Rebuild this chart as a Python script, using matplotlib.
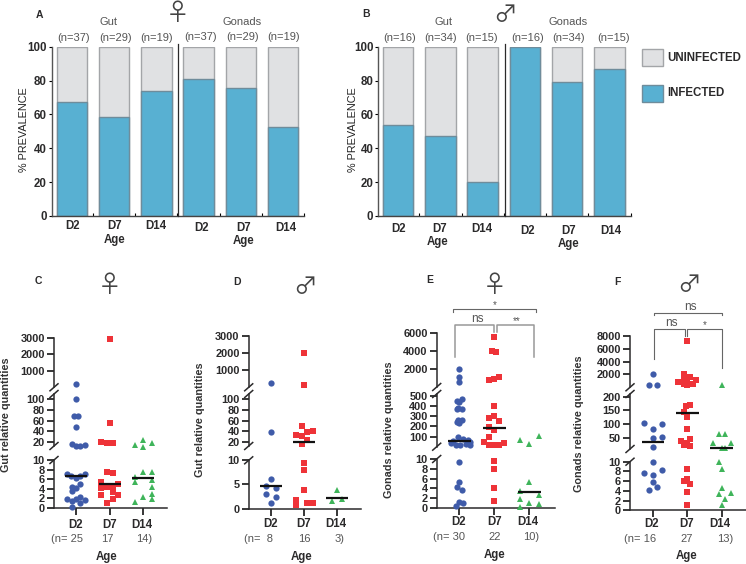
import matplotlib
matplotlib.use('Agg')
import matplotlib.pyplot as plt
from matplotlib.patches import Rectangle

plt.rcParams['font.family'] = ['Liberation Sans', 'DejaVu Sans']

W, H = 746, 564
INK = '#2b2a2b'
BLUE, RED, GREEN = '#3f5ba9', '#ee3338', '#3fb45a'
INF, UNINF = '#58b0d2', '#e0e1e3'

# prevalence bars
bar_days = ['D2', 'D7', 'D14', 'D2', 'D7', 'D14']
a_infected = [67.6, 58.6, 73.7, 81.0, 75.9, 52.6]
b_infected = [53.8, 47.0, 20.0, 100.0, 79.4, 86.7]
a_n = ['(n=37)', '(n=29)', '(n=19)', '(n=37)', '(n=29)', '(n=19)']
b_n = ['(n=16)', '(n=34)', '(n=15)', '(n=16)', '(n=34)', '(n=15)']

# panel C, gut female
c_d2 = [7.0, 6.6, 6.2, 6.6, 7.0, 4.1, 4.4, 3.5, 5.1, 1.9, 1.4, 1.9, 2.3, 1.6, 1.0, 0.3,
        100, 69, 69, 49, 17, 12, 12, 14, 192]
c_d2_off = [-.26, -.16, 0, .12, .26, 0, -.13, -.13, .12, -.26, -.13, 0, .12, .26, .12, -.13,
            0, -.07, .07, 0, -.13, 0, .13, .26, 0]
c_d7 = [7.6, 7.3, 5.4, 5.1, 4.4, 4.6, 4.1, 3.4, 2.7, 2.8, 1.9, 1.0, 20.6, 19, 17.5, 55, 2900]
c_d7_off = [-.08, .09, -.25, .25, -.08, .09, -.25, .09, -.25, .25, .09, -.08, -.25, -.08, .09, 0, 0]
c_d14 = [6.4, 7.5, 7.6, 5.4, 5.8, 4.4, 2.9, 2.3, 1.9, 1.3, 23, 15, 17.5, 11]
c_d14_off = [-.25, 0, .26, -.25, .26, .26, .26, 0, .26, -.25, 0, -.25, .26, 0]
c_med = [6.6, 5.1, 6.3]

# panel D, gut male
d_d2 = [6.2, 4.7, 4.3, 3.0, 2.5, 1.1, 38, 260]
d_d2_off = [0, -.15, .15, -.15, .15, 0, 0, 0]
d_d7 = [9.5, 8.0, 3.9, 1.7, 0.8, 1.1, 1.2, 49, 33, 31, 38, 40, 24, 16, 140, 2020]
d_d7_off = [0, 0, 0, -.25, -.25, .09, .26, -.08, -.25, -.08, .09, .26, .09, -.08, 0, 0]
d_d14 = [3.9, 1.6, 2.1]
d_d14_off = [0, -.15, .15]
d_med = [4.6, 20, 2.2]

# panel E, gonads female
e_d2 = [9.4, 5.4, 4.2, 3.7, 1.3, 1.0, 0.4,
        470, 455, 440, 380, 370, 370, 260, 260, 245, 235,
        95, 80, 70, 60, 45, 35, 25, 20, 15, 12, 600, 1150, 1960]
e_d2_off = [0, 0, -.06, .07, 0, .12, -.1,
            .07, -.06, 0, -.03, .07, -.06, -.03, .07, -.06, 0,
            -.03, .1, .25, -.18, .32, -.25, .18, -.1, .02, .3, 0, 0, 0]
e_d7 = [9.5, 7.9, 4.0, 1.4, 405, 307, 280, 250, 190, 165, 100, 50, 20, 20, 20, 35,
        770, 850, 1060, 3830, 4000, 5560]
e_d7_off = [0, 0, 0, 0, 0, 0, -.14, .14, -.14, 0, -.14, -.28, -.14, 0, .14, .27,
            -.14, 0, .14, .06, -.08, 0]
e_d14 = [5.4, 3.4, 2.7, 1.8, 1.1, 0.9, 0.3, 65, 27, 103]
e_d14_off = [0, -.27, .27, -.27, 0, .27, -.27, -.27, 0, .27]
e_med = [60, 185, 3.3]

# panel F, gonads male
f_d2 = [10, 8.2, 7.6, 7.2, 5.8, 4.7, 4.1, 103, 100, 83, 47, 52, 15, 333, 333, 2050]
f_d2_off = [0, .26, -.26, 0, 0, .13, -.13, -.26, .26, 0, 0, .26, 0, -.13, .13, 0]
f_d7 = [8.5, 6.0, 6.4, 5.5, 3.8, 1.1, 170, 165, 143, 125, 80, 37, 46, 30, 24, 19,
        2000, 1600, 1300, 1170, 800, 750, 750, 550, 400, 500, 7150]
f_d7_off = [0, -.09, 0, .09, 0, 0, .07, -.04, -.09, 0, 0, -.17, .09, 0, -.09, .09,
            -.09, .08, -.09, .26, -.27, -.17, 0, .16, 0, -.09, 0]
f_d14 = [8.5, 4.6, 3.4, 3.5, 2.4, 1.1, 62, 62, 30, 30, 10, 12, 12, 280]
f_d14_off = [0, 0, -.09, .27, .09, 0, -.09, .09, -.25, .27, -.09, .09, 0, 0]
f_med = [32, 142, 12]

fig = plt.figure(figsize=(W / 100, H / 100), dpi=100)


def px_axes(x0, x1, ybot, ytop):
    return fig.add_axes([x0 / W, 1 - ybot / H, (x1 - x0) / W, (ybot - ytop) / H])


over = fig.add_axes([0, 0, 1, 1], zorder=10)
over.set_xlim(0, W)
over.set_ylim(H, 0)
over.axis('off')


def txt(x, y, s, size=8.3, weight='normal', color=INK, **kw):
    over.text(x, y, s, fontsize=size, fontweight=weight, color=color,
              ha=kw.pop('ha', 'center'), va=kw.pop('va', 'center'), **kw)


def bars(x0, x1, infected, first_c, pitch):
    ax = px_axes(x0, x1, 216, 46.7)
    xs = range(len(infected))
    ax.bar(xs, [100] * 6, width=.72, color=UNINF, edgecolor='#a3a5a8', linewidth=1)
    ax.bar(xs, infected, width=.72, color=INF, edgecolor='#6f8c9b', linewidth=1)
    ax.set_xlim((x0 - first_c) / pitch, (x1 - first_c) / pitch)
    ax.set_ylim(0, 100)
    ax.set_yticks([0, 20, 40, 60, 80, 100])
    ax.set_xticks([.5, 1.5, 2.5, 3.5, 4.5, 5.5])
    ax.set_xticklabels([])
    ax.tick_params(axis='y', length=2, width=.8, pad=1.5, labelsize=8.3, labelcolor=INK)
    ax.tick_params(axis='x', direction='in', length=2, width=.8)
    for lab in ax.get_yticklabels():
        lab.set_fontweight('bold')
    ax.spines[['top', 'right']].set_visible(False)
    ax.spines[['left', 'bottom']].set_linewidth(1)
    ax.spines['left'].set_color('#555555')
    ax.spines['bottom'].set_color('#444444')


bars(51.7, 304, a_infected, 72.2, 42.6)
bars(378.3, 630.7, b_infected, 398.3, 42.8)
over.plot([178, 178], [44, 216], color=INK, lw=.9)
over.plot([505.3, 505.3], [44, 216], color=INK, lw=.9)

for x, y, s in zip([72.7, 114.3, 156.3, 202, 243.7, 285.7], [226, 226, 226, 228, 228, 228], bar_days):
    txt(x, y, s, weight='bold')
for x, y, s in zip([398.3, 439.3, 481.7, 527.7, 568.7, 611], [229, 229, 229, 230.5, 230.5, 230.5], bar_days):
    txt(x, y, s, weight='bold')
for x, y, s in zip([74, 115.3, 156.7, 201, 242.3, 283.3], [38, 38, 38, 37, 37, 37], a_n):
    txt(x, y, s, size=8, color='#555555')
for x, s in zip([399.3, 440.7, 481.7, 527.3, 569, 613.3], b_n):
    txt(x, 38, s, size=8, color='#555555')
for x, y in [(114.3, 240), (243.7, 241), (437.7, 242), (569, 244)]:
    txt(x, y, 'Age', weight='bold')
for x in [109, 443.3]:
    txt(x, 22, 'Gut', size=8, color='#555555')
for x in [242, 567.7]:
    txt(x, 22, 'Gonads', size=8, color='#555555')
txt(24, 130, '% PREVALENCE', size=7.8, rotation=90, color='#222222')
txt(352.5, 130, '% PREVALENCE', size=7.8, rotation=90, color='#222222')
for x, y, s in [(39, 15, 'A'), (366, 14, 'B'), (38.3, 281, 'C'), (237, 282, 'D'), (430, 280, 'E'), (617, 282, 'F')]:
    txt(x, y, s, weight='bold', size=7.5)

# sex symbols
for x, y, s in [(178, 14, '\u2640'), (505, 15, '\u2642'), (110, 285, '\u2640'), (305, 287, '\u2642'),
                (495, 285, '\u2640'), (689, 286, '\u2642')]:
    over.text(x, y, s, fontsize=17, color='#444444', ha='center', va='center', family='Noto Sans CJK JP')

# legend
over.add_patch(Rectangle((641.7, 49.3), 21.3, 17, fc=UNINF, ec='#a3a5a8', lw=1))
over.add_patch(Rectangle((642, 85), 21, 17, fc=INF, ec='#6f8c9b', lw=1))
txt(667.7, 58, 'UNINFECTED', weight='bold', ha='left')
txt(667.7, 93, 'INFECTED', weight='bold', ha='left')


def scatter_panel(x0, x1, c0, pitch, segs, groups, med, days_x, day_y, n_x, n_y, n_labels, age_xy, ylab_xy, ylab):
    axes = []
    for lo, hi, pb, pt, ticks in segs:
        ax = px_axes(x0, x1, pb, pt)
        ax.patch.set_alpha(0)
        ax.set_xlim((x0 - c0) / pitch, (x1 - c0) / pitch)
        ax.set_ylim(lo, hi)
        ax.set_yticks(ticks)
        ax.tick_params(axis='y', length=5, width=1.1, pad=1.5, labelsize=7.9, labelcolor=INK)
        for lab in ax.get_yticklabels():
            lab.set_fontweight('bold')
        ax.spines[['top', 'right', 'bottom']].set_visible(False)
        ax.spines['left'].set_linewidth(1.1)
        ax.spines['left'].set_color(INK)
        ax.set_xticks([])
        axes.append(ax)
    low = axes[0]
    low.spines['bottom'].set_visible(True)
    low.spines['bottom'].set_linewidth(1.1)
    low.spines['bottom'].set_color(INK)
    low.set_xticks([0, 1, 2])
    low.set_xticklabels([])
    low.tick_params(axis='x', length=5, width=1.1)

    def pick(v):
        for ax, s in zip(axes, segs):
            if v <= s[1]:
                return ax
        return axes[-1]

    styles = [('o', BLUE, 4.5), ('s', RED, 4.1), ('^', GREEN, 4.6)]
    for i, (vals, offs) in enumerate(groups):
        m, c, ms = styles[i]
        for v, o in zip(vals, offs):
            pick(v).plot(i + o, v, m, color=c, ms=ms, mew=0, clip_on=False, zorder=3)
        pick(med[i]).plot([i - .33, i + .33], [med[i], med[i]], color='#111111', lw=1.6,
                          solid_capstyle='butt', clip_on=False, zorder=4)

    # axis break marks
    for a, b in zip(segs[:-1], segs[1:]):
        for y in (a[3], b[2]):
            over.plot([x0 - 4, x0 + 4], [y + 3.5, y - 3.5], color=INK, lw=1.1)

    for x, s in zip(days_x, ['D2', 'D7', 'D14']):
        txt(x, day_y, s, weight='bold')
    for x, s in zip(n_x, n_labels):
        txt(x, n_y, s, size=8, color='#555555')
    txt(age_xy[0], age_xy[1], 'Age', weight='bold')
    txt(ylab_xy[0], ylab_xy[1], ylab, weight='bold', size=7.8, rotation=90, color='#333333')


scatter_panel(54, 166.7, 76, 33.67,
              [(0, 10, 508, 460, [0, 2, 4, 6, 8, 10]),
               (12.5, 110, 446, 394, [20, 40, 60, 80, 100]),
               (0, 3000, 387.3, 337.7, [1000, 2000, 3000])],
              [(c_d2, c_d2_off), (c_d7, c_d7_off), (c_d14, c_d14_off)], c_med,
              [75.3, 109.7, 142], 525, [67, 107, 143.7], 539.3, ['(n= 25', '17', '14)'],
              (107, 556.7), (6, 415), 'Gut relative quantities')

scatter_panel(248.7, 360.7, 271, 33.2,
              [(0, 10, 508.7, 460.3, [0, 5, 10]),
               (12, 110, 446, 394, [20, 40, 60, 80, 100]),
               (0, 3000, 387.3, 335.7, [1000, 2000, 3000])],
              [(d_d2, d_d2_off), (d_d7, d_d7_off), (d_d14, d_d14_off)], d_med,
              [270.3, 304, 335.7], 524, [258.3, 304, 339.3], 539, ['(n=  8', '16', '3)'],
              (301.7, 557), (200, 420), 'Gut relative quantities')

scatter_panel(436.7, 555, 459.3, 35,
              [(0, 10, 508, 459, [0, 2, 4, 6, 8, 10]),
               (0, 520, 446.7, 394, [100, 200, 300, 400, 500]),
               (0, 6000, 387, 332.7, [2000, 4000, 6000])],
              [(e_d2, e_d2_off), (e_d7, e_d7_off), (e_d14, e_d14_off)], e_med,
              [458.3, 495, 527.7], 522.3, [449, 495, 530.7], 537.3, ['(n= 30', '22', '10)'],
              (494.3, 555), (389, 430), 'Gonads relative quantities')

scatter_panel(630, 746, 653, 34.3,
              [(0, 10, 510.3, 461.7, [0, 2, 4, 6, 8, 10]),
               (8, 210, 449, 394, [50, 100, 150, 200]),
               (0, 8000, 387.3, 335.7, [2000, 4000, 6000, 8000])],
              [(f_d2, f_d2_off), (f_d7, f_d7_off), (f_d14, f_d14_off)], f_med,
              [651.7, 687, 720.3], 524.3, [640, 687, 725], 539, ['(n= 16', '27', '13)'],
              (687, 556), (578.7, 424), 'Gonads relative quantities')

# significance brackets
over.plot([453.3, 453.3, 535.7, 535.7], [311.7, 309.3, 309.3, 311.7], color='#666666', lw=.8)
over.plot([455, 455, 494, 494], [357.3, 325, 325, 331.7], color='#999999', lw=1.1)
over.plot([496.7, 496.7, 534, 534], [331.7, 325, 325, 357.3], color='#999999', lw=1.1)
txt(494.7, 305, '*', size=7, color='#555555')
txt(477.3, 319, 'ns', size=8.5, color='#555555')
txt(516.7, 321, '**', size=7, color='#555555')

over.plot([654.3, 654.3, 721.7, 721.7], [315, 312.7, 312.7, 315], color='#666666', lw=.8)
over.plot([654.3, 654.3, 685.3, 685.3], [359.3, 329, 329, 335.7], color='#666666', lw=.8)
over.plot([686.7, 686.7, 721.7, 721.7], [335.7, 329, 329, 368.3], color='#666666', lw=.8)
txt(690.3, 307, 'ns', size=8.5, color='#555555')
txt(671.7, 323, 'ns', size=8.5, color='#555555')
txt(705, 325, '*', size=7, color='#555555')

fig.savefig('out.png', dpi=100)
